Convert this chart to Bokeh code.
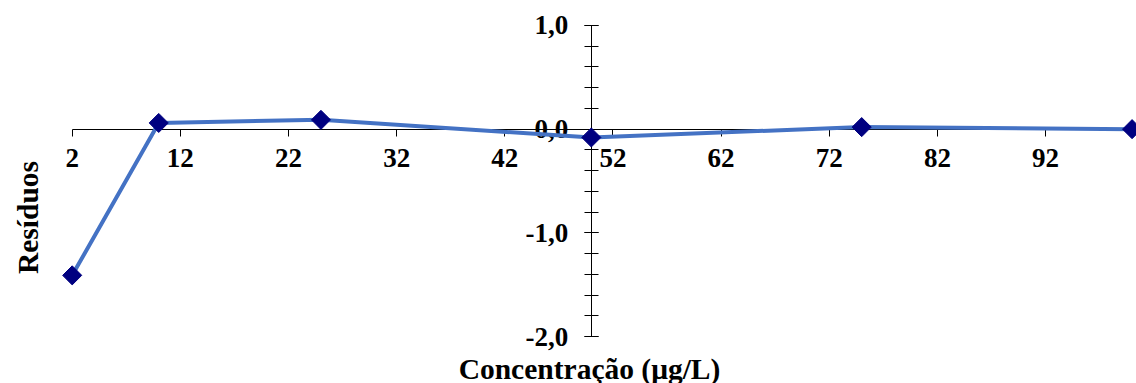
import math

from bokeh.embed import file_html
from bokeh.models import (CustomJSTickFormatter, FixedTicker, Label, LinearAxis,
                          Range1d)
from bokeh.plotting import figure
from bokeh.resources import INLINE

# Residuals of the calibration curve
conc = [2, 10, 25, 50, 75, 100]            # µg/L
residuos = [-1.41, 0.06, 0.09, -0.08, 0.02, 0.00]

x_ticks = [2, 12, 22, 32, 42, 52, 62, 72, 82, 92]
y_ticks = [-2.0, -1.0, 0.0, 1.0]
y_minor = [-2.0, -1.8, -1.6, -1.4, -1.2, -1.0, -0.8, -0.6, -0.4, -0.2,
           0.0, 0.2, 0.4, 0.6, 0.8, 1.0]

FONT = "Liberation Serif"

p = figure(
    width=1136, height=383,
    output_backend="svg", toolbar_location=None,
    x_axis_type=None, y_axis_type=None,
    x_range=Range1d(-4.63, 100.41), y_range=Range1d(-2.453, 1.241),
    min_border=0, outline_line_color=None,
)
p.background_fill_color = "white"
p.border_fill_color = "white"

# horizontal axis crossing at zero residual
xaxis = LinearAxis(
    fixed_location=0, bounds=(2, 100),
    ticker=FixedTicker(ticks=x_ticks),
    major_tick_in=0, major_tick_out=7,
    minor_tick_in=0, minor_tick_out=0,
    major_label_standoff=13,
    axis_line_color="black", major_tick_line_color="black",
    major_label_text_font=FONT, major_label_text_font_style="bold",
    major_label_text_font_size="27px", major_label_text_color="black",
    level="underlay",
)
p.add_layout(xaxis, "below")

# vertical axis crossing at 50 µg/L
yaxis = LinearAxis(
    fixed_location=50, bounds=(-2, 1),
    ticker=FixedTicker(ticks=y_ticks, minor_ticks=y_minor),
    formatter=CustomJSTickFormatter(code="return tick.toFixed(1).replace('.', ',')"),
    major_tick_in=7, major_tick_out=7,
    minor_tick_in=7, minor_tick_out=7,
    major_label_standoff=16,
    axis_line_color="black", major_tick_line_color="black",
    minor_tick_line_color="black",
    major_label_text_font=FONT, major_label_text_font_style="bold",
    major_label_text_font_size="27px", major_label_text_color="black",
    level="underlay",
)
p.add_layout(yaxis, "left")

p.line(conc, residuos, line_color="#4472C4", line_width=4)
p.scatter(conc, residuos, marker="square", size=13.5, angle=math.pi / 4,
          fill_color="#000080", line_color="#000080")

p.add_layout(Label(
    x=27, y=166, x_units="screen", y_units="screen",
    text="Resíduos", angle=math.pi / 2,
    text_align="center", text_baseline="middle",
    text_font=FONT, text_font_style="bold", text_font_size="29.5px",
    text_color="black",
))
p.add_layout(Label(
    x=589, y=15, x_units="screen", y_units="screen",
    text="Concentração (μg/L)",
    text_align="center", text_baseline="middle",
    text_font=FONT, text_font_style="bold", text_font_size="29.5px",
    text_color="black",
))

open("out.html", "w").write(file_html(p, INLINE))
